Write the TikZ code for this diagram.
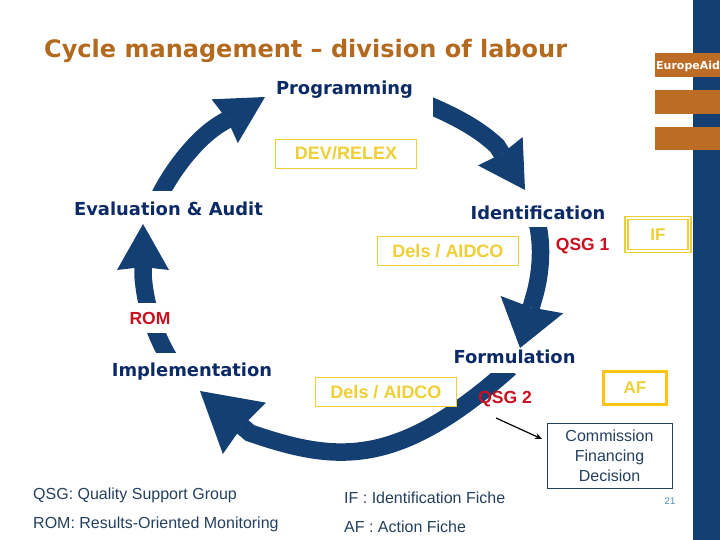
\documentclass[tikz,border=0pt]{standalone}
\usepackage{fontspec}
\setmainfont{Liberation Sans}
\newfontfamily\headfont{DejaVu Sans}
\usetikzlibrary{arrows.meta,backgrounds,positioning}
\definecolor{ecnavy}{HTML}{143F73}
\definecolor{ecbrown}{HTML}{BC6C25}
\definecolor{ectitle}{HTML}{B3691E}
\definecolor{eclabel}{HTML}{0C2A66}
\definecolor{ecyellow}{HTML}{EFCF35}
\definecolor{ecgold}{HTML}{FBC512}
\definecolor{ecred}{HTML}{C9101F}
\definecolor{ecgrey}{HTML}{24405F}
\definecolor{ecteal}{HTML}{3E8FA0}

\begin{document}
\begin{tikzpicture}[
    x=1pt,y=-1pt,
    stage/.style={font=\headfont\fontsize{17.9}{20}\selectfont\bfseries,text=eclabel,inner sep=0pt,anchor=base,fill=white},
    actorbox/.style={font=\fontsize{18}{20}\selectfont\bfseries,text=ecyellow,draw=ecyellow,fill=white,minimum width=141pt,minimum height=29pt,inner sep=0pt},
    qsgtag/.style={font=\fontsize{17.5}{20}\selectfont\bfseries,text=ecred,inner sep=0pt},
    fiche/.style={font=\fontsize{17}{20}\selectfont\bfseries,text=ecyellow,minimum width=63pt,minimum height=33pt,inner sep=0pt},
    legend/.style={font=\fontsize{16}{19}\selectfont,text=ecgrey,inner sep=0pt,anchor=base west},
    sidebar/.style={fill=ecbrown,draw=none},
    cycle/.style 2 args={draw=ecnavy,line width=17.5pt,-{Stealth[length=#1,width=#2,inset=3pt,line width=0pt]}},
    note/.style={-{Stealth[length=7pt,width=6pt]},line width=1.2pt,draw=black}
  ]
    \useasboundingbox (0,0) rectangle (720,540);
    \node[font=\headfont\fontsize{24}{28}\selectfont\bfseries,text=ectitle,inner sep=0pt,anchor=base west] (title) at (44,58) {Cycle management – division of labour};
    \node[font=\headfont\fontsize{11}{13}\selectfont\bfseries,text=white,inner sep=0pt,anchor=base west] (brand) at (656,69.5) {EuropeAid};

    \node[stage,fill=none] (prog) at (344.5,95) {Programming};
    \node[actorbox] (dev) at (346,153.5) {DEV/RELEX};
    \node[stage,text height=24pt,text depth=5pt] (eval) at (168.5,215) {Evaluation \& Audit};
    \node[stage,text height=15pt,text depth=7pt] (ident) at (538,220) {Identification};
    \node[actorbox] (dels) at (448,251) {Dels / AIDCO};
    \node[qsgtag,right=37pt of dels,yshift=5pt] (qsgone) {QSG 1};
    \node[fiche,draw=ecyellow,double,double distance=1.8pt,line width=1.2pt] (if) at (658,234.5) {IF};
    \node[font=\fontsize{17.5}{20}\selectfont\bfseries,text=ecred,fill=white,inner sep=0pt,minimum height=30pt,minimum width=42pt] (rom) at (150,318) {ROM};
    \node[stage,text height=23pt,text depth=6pt] (impl) at (192,376) {Implementation};
    \node[stage,text height=14pt,text depth=10pt] (form) at (514.5,363) {Formulation};
    \node[actorbox] (delstwo) at (386,392) {Dels / AIDCO};
    \node[qsgtag] (qsgtwo) at (505,399) {QSG 2};
    \node[fiche,draw=ecgold,line width=3pt] (af) at (635,388) {AF};
    \node[draw=ecgrey,text=ecgrey,align=center,font=\fontsize{16}{20}\selectfont,minimum width=125pt,minimum height=65pt,inner sep=0pt] (cfd) at (609.5,455.5) {Commission\\Financing\\Decision};
    \node[font=\fontsize{9.5}{11}\selectfont,text=ecteal,inner sep=0pt] (page) at (670,501) {21};

    \node[legend] (qsgkey) at (33,499.5) {QSG: Quality Support Group};
    \node[legend,below=29pt of qsgkey.base west,anchor=base west] (romkey) {ROM: Results-Oriented Monitoring};
    \node[legend] (ifkey) at (344,503.5) {IF : Identification Fiche};
    \node[legend,below=29pt of ifkey.base west,anchor=base west] (afkey) {AF : Action Fiche};

    \coordinate (progout) at (424,103);
    \coordinate (progback) at (497,146);
    \coordinate (identin) at (525,190);
    \coordinate (identout) at (537,222);
    \coordinate (identback) at (533.5,299);
    \coordinate (formin) at (520,348);
    \coordinate (formout) at (510,368);
    \coordinate (formback) at (250,433);
    \coordinate (implin) at (200,391);
    \coordinate (implout) at (169,358);
    \coordinate (implback) at (143,275);
    \coordinate (evalin) at (143,224);
    \coordinate (evalout) at (159,197);
    \coordinate (evalback) at (220,124);
    \coordinate (progin) at (265,97);
    \coordinate (notefrom) at (496,418);
    \coordinate (noteto) at (542,439);

    \draw[note] (notefrom)--(noteto);
    \begin{scope}[on background layer]
      \fill[ecnavy] (693,0) rectangle (720,540);
      \fill[sidebar] (655,53) rectangle (720,77);
      \fill[sidebar] (655,90) rectangle (720,114);
      \fill[sidebar] (655,127) rectangle (720,150);
      \draw[cycle={47pt}{51pt}] (evalout) .. controls (172,170) and (197,138) .. (evalback) -- (progin);
      \begin{scope}
        \clip (433,0) rectangle (600,300);
        \draw[cycle={46pt}{53pt}] (progout) .. controls (445,112) and (475,125) .. (progback) -- (identin);
      \end{scope}
      \draw[cycle={45pt}{65pt}] (identout) .. controls (543,245) and (541,275) .. (identback) -- (formin);
      \draw[cycle={58pt}{67pt}] (formout) .. controls (396,470) and (335,462) .. (formback) -- (implin);
      \draw[cycle={46pt}{52pt}] (implout) .. controls (155,335) and (145,305) .. (implback) -- (evalin);
    \end{scope}
  \end{tikzpicture}
\end{document}
